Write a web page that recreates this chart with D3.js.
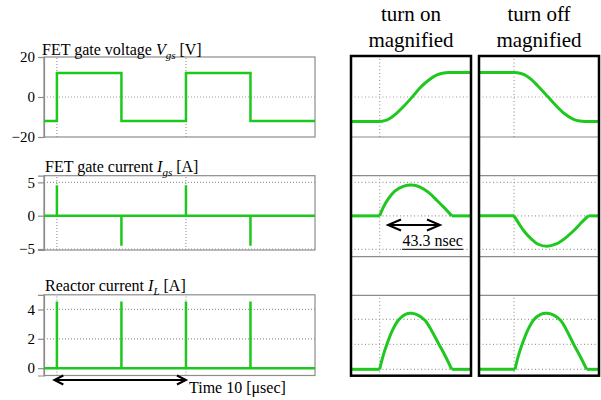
<!DOCTYPE html>
<html><head><meta charset="utf-8">
<script src="https://cdn.jsdelivr.net/npm/d3@7"></script>
<style>
html,body{margin:0;padding:0;background:#fff;}
svg{display:block;}
</style></head>
<body>
<svg id="chart" width="601" height="400" style="font-family:'Liberation Serif','DejaVu Serif',serif"></svg>
<script>
// ---------------- DATA ----------------
// Overview time axis (microseconds)
const timeDomain = [0, 21];
const timeGrid = [1, 11];
// FET gate voltage Vgs [V]
const vgsTime  = [0, 1, 1, 6, 6, 11, 11, 16, 16, 21];
const vgsValue = [-12, -12, 12, 12, -12, -12, 12, 12, -12, -12];
const vgsTicks = [20, 0, -20];
const vgsGrid = [0];
// FET gate current Igs [A]
const igsTime  = [0, 1, 1, 1, 6, 6, 6, 11, 11, 11, 16, 16, 16, 21];
const igsValue = [0, 0, 4.55, 0, 0, -4.5, 0, 0, 4.55, 0, 0, -4.5, 0, 0];
const igsTicks = [5, 0, -5];
const igsGrid = [5, 0, -5];
// Reactor current IL [A]
const ilTime  = [0, 1, 1, 1, 6, 6, 6, 11, 11, 11, 16, 16, 16, 21];
const ilValue = [0, 0, 4.55, 0, 0, 4.55, 0, 0, 4.55, 0, 0, 4.55, 0, 0];
const ilTicks = [4, 2, 0];
const ilGrid = [4, 2, 0];

// Magnified views (time in nsec, 0 = switching instant)
const onDomain = [-17, 54.2];
const offDomain = [-20.8, 50.4];
const onVgsT  = [-17, 0, 3, 6, 10, 14, 19, 24, 29, 34, 38, 41, 54.2];
const onVgsV  = [-12, -12, -11.6, -10.5, -8, -4.8, -0.3, 4.5, 8.2, 10.8, 11.8, 12, 12];
const offVgsT = [-20.8, 0, 2, 6, 10, 14, 20, 25, 30, 35, 39, 42, 50.4];
const offVgsV = [12, 12, 11.9, 11, 8.8, 5.5, 0.2, -4.3, -8.2, -10.8, -11.8, -12, -12];
const onIgsT  = [-17, 0, 2, 5, 9, 14, 19, 24, 29, 34, 38, 42.8, 54.2];
const onIgsV  = [0, 0, 1.2, 2.5, 3.7, 4.4, 4.6, 4.3, 3.5, 2.3, 1.3, 0, 0];
const offIgsT = [-20.8, 0, 3, 6, 10, 14, 19.5, 25, 30, 35, 40, 44, 50.4];
const offIgsV = [0, 0, -1.2, -2.3, -3.4, -4.2, -4.55, -4.2, -3.4, -2.3, -1.0, 0, 0];
const onIlT   = [-17, 0, 2, 4.3, 7.5, 11.2, 15, 19, 23, 27, 31, 35, 39, 42.8, 54.2];
const onIlV   = [0, 0, 1.05, 2, 3.1, 3.95, 4.38, 4.48, 4.32, 3.9, 3.05, 2.05, 1.05, 0, 0];
const offIlT  = [-20.8, 0.6, 2.5, 4.8, 8, 11.6, 15.5, 19.8, 23.8, 27.7, 31.5, 35.2, 39.2, 43.1, 50.4];
const offIlV  = [0, 0, 1.05, 2, 3.1, 3.95, 4.38, 4.48, 4.32, 3.9, 3.05, 2.05, 1.05, 0, 0];
const magVgsGrid = [0];
const magIgsGrid = [5, 0, -5];
const magIlGrid = [4, 2, 0];
const pulseArrowNs = "43.3 nsec";

// ---------------- DRAW ----------------
const FONT = "'Liberation Serif','DejaVu Serif',serif";
const svg = d3.select("#chart");
const GREEN = "#1fc81f";
const GRAY = "#8c8c8c";
const zip = (t, v) => t.map((d, i) => [d, v[i]]);
const txt = (sel) => sel.append("text").style("font-family", FONT).attr("fill", "#000");

const xL = d3.scaleLinear().domain(timeDomain).range([44, 315]);

const leftPanels = [
  {t: vgsTime, v: vgsValue, ticks: vgsTicks, grid: vgsGrid, dom: [-20, 20], rng: [137, 57]},
  {t: igsTime, v: igsValue, ticks: igsTicks, grid: igsGrid, dom: [-5.15, 6], rng: [250, 175.7]},
  {t: ilTime, v: ilValue, ticks: ilTicks, grid: ilGrid, dom: [-0.5, 5], rng: [375.5, 294.8]}
];

leftPanels.forEach(p => {
  const y = d3.scaleLinear().domain(p.dom).range(p.rng);
  const g = svg.append("g");
  g.selectAll(".hg").data(p.grid).join("line")
    .attr("x1", xL.range()[0]).attr("x2", xL.range()[1])
    .attr("y1", d => y(d)).attr("y2", d => y(d))
    .attr("stroke", "#9a9a9a").attr("stroke-width", 1.2).attr("stroke-dasharray", "1,2");
  g.selectAll(".vg").data(timeGrid).join("line")
    .attr("x1", d => xL(d)).attr("x2", d => xL(d))
    .attr("y1", p.rng[0]).attr("y2", p.rng[1])
    .attr("stroke", "#9a9a9a").attr("stroke-width", 1.2).attr("stroke-dasharray", "1,2");
  g.append("rect").attr("x", xL.range()[0]).attr("y", p.rng[1])
    .attr("width", xL.range()[1] - xL.range()[0]).attr("height", p.rng[0] - p.rng[1])
    .attr("fill", "none").attr("stroke", GRAY).attr("stroke-width", 1.2);
  const ax = d3.axisLeft(y).tickValues(p.ticks).tickSize(6).tickPadding(3).tickFormat(d3.format("d"));
  const axg = g.append("g").attr("transform", `translate(${xL.range()[0]},0)`).call(ax);
  axg.attr("font-family", null).attr("font-size", null);
  axg.select(".domain").attr("stroke", GRAY).attr("stroke-width", 1.2);
  axg.selectAll(".tick line").attr("stroke", GRAY).attr("stroke-width", 1.2);
  axg.selectAll(".tick text").style("font-family", FONT).style("font-size", "15px").attr("fill", "#000");
  g.append("path").datum(zip(p.t, p.v))
    .attr("d", d3.line().x(d => xL(d[0])).y(d => y(d[1])))
    .attr("fill", "none").attr("stroke", GREEN).attr("stroke-width", 2.5).attr("stroke-linejoin", "miter");
});

function title(x, yb, main, sym, sub, unit) {
  const t = txt(svg).attr("x", x).attr("y", yb).style("font-size", "16px");
  t.append("tspan").text(main);
  t.append("tspan").style("font-style", "italic").text(sym);
  t.append("tspan").style("font-style", "italic").style("font-size", "11px").attr("dy", 4).text(sub);
  t.append("tspan").attr("dy", -4).text(" " + unit);
}
title(42, 55, "FET gate voltage ", "V", "gs", "[V]");
title(45, 171.5, "FET gate current ", "I", "gs", "[A]");
title(45, 290.5, "Reactor current ", "I", "L", "[A]");

function dblArrow(x1, x2, y, w, h) {
  const g = svg.append("g").attr("fill", "none").attr("stroke", "#000").attr("stroke-width", 2);
  g.append("line").attr("x1", x1).attr("x2", x2).attr("y1", y).attr("y2", y);
  g.append("polyline").attr("points", `${x1 + w},${y - h} ${x1},${y} ${x1 + w},${y + h}`);
  g.append("polyline").attr("points", `${x2 - w},${y - h} ${x2},${y} ${x2 - w},${y + h}`);
}
dblArrow(xL(0.8), xL(11), 380, 9, 4.5);
txt(svg).attr("x", 189).attr("y", 393).style("font-size", "16px").text("Time 10 [\u03bcsec]");

const magRows = [
  {dom: [-19.6, 20.1], rng: [137, 56], grid: magVgsGrid, on: [onVgsT, onVgsV], off: [offVgsT, offVgsV], split: false},
  {dom: [-6.1, 6], rng: [256.7, 175.7], grid: magIgsGrid, on: [onIgsT, onIgsV], off: [offIgsT, offIgsV], split: true},
  {dom: [-0.51, 5.92], rng: [375.7, 295.3], grid: magIlGrid, on: [onIlT, onIlV], off: [offIlT, offIlV], split: true}
];
const boxes = [
  {x0: 351, x1: 471, dom: onDomain, key: "on", head: ["turn on", "magnified"]},
  {x0: 479, x1: 599, dom: offDomain, key: "off", head: ["turn off", "magnified"]}
];

boxes.forEach(b => {
  const x = d3.scaleLinear().domain(b.dom).range([b.x0, b.x1]);
  const g = svg.append("g");
  const cx = (b.x0 + b.x1) / 2;
  txt(g).attr("x", cx).attr("y", 20.5).attr("text-anchor", "middle").style("font-size", "21px").text(b.head[0]);
  txt(g).attr("x", cx).attr("y", 46.5).attr("text-anchor", "middle").style("font-size", "21px").text(b.head[1]);
  magRows.forEach((r, i) => {
    const y = d3.scaleLinear().domain(r.dom).range(r.rng);
    g.selectAll(null).data(r.grid).join("line")
      .attr("x1", b.x0).attr("x2", b.x1).attr("y1", d => y(d)).attr("y2", d => y(d))
      .attr("stroke", "#9a9a9a").attr("stroke-width", 1.2).attr("stroke-dasharray", "1,2.5");
    g.append("line").attr("x1", x(0)).attr("x2", x(0)).attr("y1", r.rng[0]).attr("y2", r.rng[1])
      .attr("stroke", "#9a9a9a").attr("stroke-width", 1.2).attr("stroke-dasharray", "1,2.5");
    if (i > 0) g.append("line").attr("x1", b.x0).attr("x2", b.x1).attr("y1", r.rng[1]).attr("y2", r.rng[1]).attr("stroke", GRAY).attr("stroke-width", 1.2);
    if (i < 2) g.append("line").attr("x1", b.x0).attr("x2", b.x1).attr("y1", r.rng[0]).attr("y2", r.rng[0]).attr("stroke", GRAY).attr("stroke-width", 1.2);
    const pts = zip(r[b.key][0], r[b.key][1]);
    const lin = d3.line().x(d => x(d[0])).y(d => y(d[1]));
    const smooth = d3.line().x(d => x(d[0])).y(d => y(d[1])).curve(d3.curveCatmullRom.alpha(0.5));
    const smoothM = d3.line().x(d => x(d[0])).y(d => y(d[1])).curve(d3.curveMonotoneX);
    const style = p => p.attr("fill", "none").attr("stroke", GREEN).attr("stroke-width", 3).attr("stroke-linecap", "butt");
    if (r.split) {
      const n = pts.length;
      style(g.append("path").attr("d", lin(pts.slice(0, 2))));
      style(g.append("path").attr("d", smooth(pts.slice(1, n - 1))));
      style(g.append("path").attr("d", lin(pts.slice(n - 2))));
    } else {
      style(g.append("path").attr("d", smoothM(pts)));
    }
  });
  g.append("rect").attr("x", b.x0).attr("y", 56).attr("width", b.x1 - b.x0).attr("height", 375.7 - 56)
    .attr("fill", "none").attr("stroke", "#000").attr("stroke-width", 2.5);
});

dblArrow(388, 440, 225, 13, 5.5);
txt(svg).attr("x", 402.5).attr("y", 246).style("font-size", "16px").text(pulseArrowNs);
svg.append("line").attr("x1", 402).attr("x2", 463).attr("y1", 249.3).attr("y2", 249.3).attr("stroke", "#333").attr("stroke-width", 1.2);
</script>
</body></html>
